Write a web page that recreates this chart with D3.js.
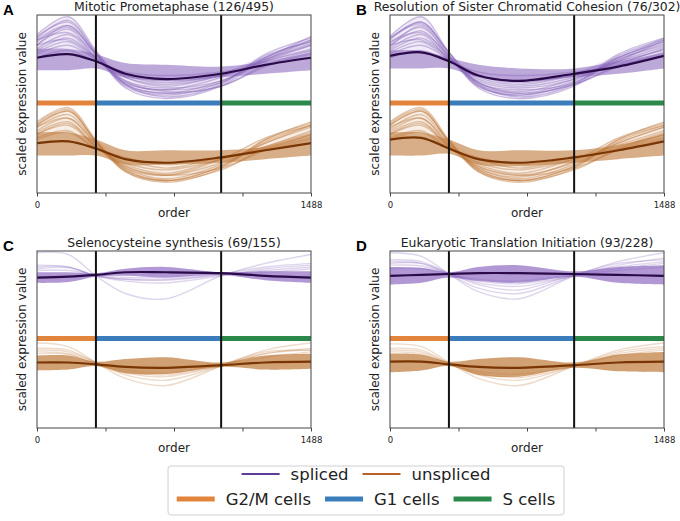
<!DOCTYPE html>
<html>
<head>
<meta charset="utf-8">
<script src="https://cdn.jsdelivr.net/npm/d3@7"></script>
<style>
  body { margin: 0; background: #fff; }
  text { font-family: "DejaVu Sans", sans-serif; }
</style>
</head>
<body>
<div class="container"></div>
<script>
const WIDTH = 680;
const HEIGHT = 521;

// order positions where each gene trend is sampled
const orderKnots = [0, 170, 320, 480, 700, 1000, 1240, 1488];
const orderMax = 1488;
const xTicks = [0, 372, 744, 1116, 1488];
const phaseBreaks = [0, 320, 1000, 1488];
const phaseNames = ['G2/M cells', 'G1 cells', 'S cells'];
const phaseLevel = 50.5;

const panelLetters = ['A', 'B', 'C', 'D'];
const panelTitles = [
    'Mitotic Prometaphase (126/495)',
    'Resolution of Sister Chromatid Cohesion (76/302)',
    'Selenocysteine synthesis (69/155)',
    'Eukaryotic Translation Initiation (93/228)'
];

// A - spliced
const aSplicedMean = [76, 78, 74, 67, 64, 67, 72, 76];
const aSplicedHi = [81, 81, 78, 73, 72, 71, 74, 79];
const aSplicedLo = [69, 69, 70, 65, 63, 65, 67, 69];
const aSplicedGenes = [
    [89, 99, 80, 61, 54, 61, 78, 87],
    [87, 97, 79, 59, 53, 60, 76, 86],
    [86, 94, 78, 60, 55, 62, 76, 85],
    [85, 93, 78, 61, 56, 63, 75, 84],
    [83, 92, 76, 62, 58, 65, 75, 86],
    [81, 89, 76, 63, 59, 63, 74, 83],
    [80, 87, 76, 65, 60, 66, 75, 83],
    [79, 85, 75, 65, 61, 66, 74, 81],
    [83, 86, 76, 66, 62, 67, 76, 88],
    [78, 83, 75, 66, 63, 66, 74, 80],
    [86, 90, 78, 63, 57, 60, 72, 80],
    [83, 94, 78, 61, 56, 60, 71, 79],
    [88, 96, 79, 62, 58, 62, 77, 85],
    [76, 80, 74, 68, 66, 68, 72, 78]
];
// A - unspliced
const aUnsplicedMean = [28, 29, 25, 19, 17, 20, 24, 28];
const aUnsplicedHi = [34, 34, 30, 24, 24, 24, 26, 33];
const aUnsplicedLo = [21, 21, 21, 16, 16, 17, 19, 21];
const aUnsplicedGenes = [
    [40, 48, 30, 12, 6, 14, 30, 40],
    [38, 46, 29, 13, 7, 15, 29, 38],
    [37, 44, 28, 14, 8, 16, 28, 38],
    [35, 42, 28, 15, 10, 17, 28, 37],
    [34, 40, 26, 16, 11, 19, 26, 35],
    [33, 38, 26, 17, 13, 19, 26, 34],
    [31, 35, 25, 19, 14, 20, 25, 33],
    [37, 42, 27, 14, 10, 19, 31, 39],
    [38, 46, 29, 13, 7, 13, 25, 33],
    [30, 34, 25, 20, 16, 20, 24, 30],
    [33, 39, 26, 15, 10, 14, 24, 31],
    [39, 47, 29, 12, 7, 15, 30, 38]
];

// B - spliced
const bSplicedMean = [77, 79, 74, 66, 63, 67, 71, 77];
const bSplicedHi = [80, 80, 76, 72, 70, 70, 74, 79];
const bSplicedLo = [70, 70, 70, 65, 63, 65, 67, 70];
const bSplicedGenes = [
    [88, 99, 79, 61, 54, 61, 78, 87],
    [86, 96, 78, 59, 53, 60, 77, 86],
    [87, 95, 79, 60, 55, 62, 75, 84],
    [84, 93, 77, 61, 56, 63, 76, 85],
    [83, 91, 76, 62, 57, 64, 74, 86],
    [81, 89, 75, 63, 59, 64, 75, 83],
    [80, 87, 76, 64, 60, 65, 74, 82],
    [79, 85, 75, 65, 61, 66, 73, 81],
    [83, 86, 76, 66, 62, 67, 76, 87],
    [78, 83, 75, 66, 63, 66, 74, 80],
    [85, 90, 77, 62, 56, 61, 72, 81],
    [82, 94, 77, 60, 55, 61, 71, 79],
    [87, 96, 79, 62, 58, 62, 76, 85],
    [76, 80, 74, 68, 66, 68, 72, 78]
];
// B - unspliced
const bUnsplicedMean = [30, 31, 25, 19, 17, 20, 24, 29];
const bUnsplicedHi = [34, 34, 30, 24, 24, 24, 27, 33];
const bUnsplicedLo = [21, 21, 22, 16, 15, 17, 19, 21];
const bUnsplicedGenes = [
    [40, 48, 30, 12, 6, 14, 30, 40],
    [38, 46, 29, 13, 7, 15, 29, 38],
    [36, 44, 28, 14, 8, 16, 28, 37],
    [35, 42, 27, 15, 10, 17, 28, 37],
    [34, 40, 26, 16, 11, 19, 27, 35],
    [33, 38, 26, 17, 13, 19, 26, 34],
    [31, 35, 25, 19, 14, 20, 25, 33],
    [37, 42, 27, 14, 9, 18, 31, 39],
    [38, 46, 29, 13, 7, 13, 25, 33],
    [30, 34, 25, 20, 16, 20, 24, 30],
    [33, 39, 26, 15, 10, 14, 24, 31],
    [39, 47, 29, 12, 7, 15, 30, 38]
];

// C - spliced
const cSplicedMean = [85, 85.5, 86.5, 88, 88, 87.5, 86, 85];
const cSplicedHi = [88, 88, 87.5, 90, 91, 88, 88.5, 88.5];
const cSplicedLo = [82, 82.5, 85.5, 86, 85, 86.5, 83.5, 82];
const cSplicedGenes = [
    [99, 98, 86, 76, 73, 86, 93, 98],
    [91, 91, 86, 83, 82, 86, 90, 92],
    [90, 90.5, 86, 84, 83.5, 86.5, 89, 91],
    [92, 91, 86, 84, 84, 87, 91, 93],
    [89, 89, 86.5, 85, 85, 87, 88, 90]
];
// C - unspliced
const cUnsplicedMean = [37, 37, 36, 34.5, 34, 35.5, 37, 37.5];
const cUnsplicedHi = [41, 41, 37.5, 39, 40, 37, 41, 42];
const cUnsplicedLo = [32.5, 33, 35, 31, 30.5, 34.5, 33, 33.5];
const cUnsplicedGenes = [
    [48, 46, 37, 28, 24, 35, 44, 48],
    [44, 43, 37, 30, 27, 35, 42, 45],
    [43, 42, 36.5, 32, 30, 35.5, 42, 44],
    [42, 41.5, 36, 31, 29, 35, 40, 43],
    [45, 44, 37, 33, 31, 36, 43, 44]
];

// D - spliced
const dSplicedMean = [86, 86.5, 87, 87.5, 87.5, 87, 86.5, 86];
const dSplicedHi = [91, 90.5, 88, 91, 92, 88.5, 91, 92];
const dSplicedLo = [81, 82, 85, 83, 82, 85.5, 82, 81];
const dSplicedGenes = [
    [99, 97, 87, 77, 73, 86, 94, 99],
    [95, 94, 87, 79, 76, 86, 92, 96],
    [93, 93, 87.5, 81, 78, 86.5, 91, 94],
    [92, 91.5, 87, 82, 80, 86, 90, 93],
    [94, 93, 87, 84, 83, 87, 93, 95],
    [90, 90, 87, 83, 81.5, 86, 89, 91]
];
// D - unspliced
const dUnsplicedMean = [37.5, 37.5, 36, 34.5, 34, 35.5, 37, 37.5];
const dUnsplicedHi = [42, 41.5, 37.5, 39, 40, 37, 41.5, 43];
const dUnsplicedLo = [31.5, 32.5, 35, 30, 29, 34, 32, 31.5];
const dUnsplicedGenes = [
    [47.5, 46, 37, 28, 24, 35, 44, 48],
    [45, 44, 36.5, 30, 27, 35, 43, 46],
    [44, 43, 36.5, 31, 28.5, 35, 42, 45],
    [43, 42, 36, 32, 30.5, 35, 41, 44]
];

const legendSeries = ['spliced', 'unspliced'];

// styling
const PHASE_COLORS = ['#e2843c', '#3b7dbb', '#2b8a4b'];
const STYLE = {
    spliced: {gene: '#8a68bd', core: '#a386cc', mean: '#2a0a48', legend: '#5e3c99'},
    unspliced: {gene: '#c27d40', core: '#c98f5a', mean: '#7a3504', legend: '#b8612a'}
};

const COL_X = [37, 390];
const ROW_Y = [15, 251];
const BOX_W = 274;
const ROW_H = [178, 177];

var panels = panelLetters.map(function (letter, i) {
    var src = [
        [aSplicedMean, aSplicedHi, aSplicedLo, aSplicedGenes, aUnsplicedMean, aUnsplicedHi, aUnsplicedLo, aUnsplicedGenes],
        [bSplicedMean, bSplicedHi, bSplicedLo, bSplicedGenes, bUnsplicedMean, bUnsplicedHi, bUnsplicedLo, bUnsplicedGenes],
        [cSplicedMean, cSplicedHi, cSplicedLo, cSplicedGenes, cUnsplicedMean, cUnsplicedHi, cUnsplicedLo, cUnsplicedGenes],
        [dSplicedMean, dSplicedHi, dSplicedLo, dSplicedGenes, dUnsplicedMean, dUnsplicedHi, dUnsplicedLo, dUnsplicedGenes]
    ][i];
    return {
        letter: letter,
        title: panelTitles[i],
        spliced: {mean: src[0], hi: src[1], lo: src[2], genes: src[3]},
        unspliced: {mean: src[4], hi: src[5], lo: src[6], genes: src[7]}
    };
});

var _svg;

var createSvg = function () {
    _svg = d3.select('.container').append('svg').attr('width', WIDTH).attr('height', HEIGHT);
};

var drawPanel = function (p, i) {
    var col = i % 2;
    var row = Math.floor(i / 2);
    var h = ROW_H[row];
    var x = d3.scaleLinear().domain([0, orderMax]).range([0, BOX_W]);
    var y = d3.scaleLinear().domain([0, 100]).range([h, 0]);
    var g = _svg.append('g').attr('transform', 'translate(' + COL_X[col] + ',' + ROW_Y[row] + ')');
    var smooth = d3.curveCatmullRom.alpha(0.5);

    var line = d3.line()
        .x(function (d, j) { return x(orderKnots[j]); })
        .y(function (d) { return y(d); })
        .curve(smooth);
    var area = d3.area()
        .x(function (d, j) { return x(orderKnots[j]); })
        .y0(function (d) { return y(d[0]); })
        .y1(function (d) { return y(d[1]); })
        .curve(smooth);

    var faint = row === 1;
    ['spliced', 'unspliced'].forEach(function (key) {
        var s = p[key];
        var st = STYLE[key];
        // haze spanned by all genes (envelope of the drawn genes)
        var env = orderKnots.map(function (k, j) {
            return [d3.min(s.genes, function (gv) { return gv[j]; }),
                    d3.max(s.genes, function (gv) { return gv[j]; })];
        });
        if (!faint) {
            g.append('path')
                .attr('d', area(env))
                .attr('fill', st.gene)
                .attr('fill-opacity', 0.13);
        }
        g.append('path')
            .attr('d', area(d3.zip(s.lo, s.hi)))
            .attr('fill', st.core)
            .attr('fill-opacity', faint ? 0.85 : 0.72);
        g.selectAll('.gene-' + key)
            .data(s.genes)
            .enter().append('path')
            .attr('d', line)
            .attr('fill', 'none')
            .attr('stroke', st.gene)
            .attr('stroke-opacity', faint ? 0.28 : 0.42)
            .attr('stroke-width', 1.4);
        g.append('path')
            .attr('d', line(s.mean))
            .attr('fill', 'none')
            .attr('stroke', st.mean)
            .attr('stroke-width', 2.2);
    });

    // phase bar
    g.selectAll('.phase')
        .data(phaseNames)
        .enter().append('line')
        .attr('x1', function (d, j) { return x(phaseBreaks[j]); })
        .attr('x2', function (d, j) { return x(phaseBreaks[j + 1]); })
        .attr('y1', y(phaseLevel))
        .attr('y2', y(phaseLevel))
        .attr('stroke', function (d, j) { return PHASE_COLORS[j]; })
        .attr('stroke-width', 5);

    // phase boundaries
    g.selectAll('.vline')
        .data(phaseBreaks.slice(1, -1))
        .enter().append('line')
        .attr('x1', function (d) { return x(d); })
        .attr('x2', function (d) { return x(d); })
        .attr('y1', 0)
        .attr('y2', h)
        .attr('stroke', '#111')
        .attr('stroke-width', 2);

    // frame
    g.append('rect')
        .attr('width', BOX_W).attr('height', h)
        .attr('fill', 'none').attr('stroke', '#444').attr('stroke-width', 1);

    var xAxis = d3.axisBottom(x)
        .tickValues(xTicks)
        .tickSize(3.5)
        .tickSizeOuter(0)
        .tickFormat(function (d) { return (d === 0 || d === orderMax) ? d : ''; });
    var ax = g.append('g').attr('transform', 'translate(0,' + h + ')').call(xAxis);
    ax.select('.domain').remove();
    ax.selectAll('line').attr('stroke', '#444');
    ax.selectAll('text').attr('font-size', 8.5).attr('fill', '#222').attr('dy', '0.95em')
        .style('font-family', '"DejaVu Sans", sans-serif');

    g.append('text')
        .attr('x', BOX_W / 2).attr('y', h + 24)
        .attr('text-anchor', 'middle').attr('font-size', 12).attr('fill', '#222')
        .text('order');

    g.append('text')
        .attr('transform', 'translate(-11,' + (h / 2) + ') rotate(-90)')
        .attr('text-anchor', 'middle').attr('font-size', 12).attr('fill', '#222')
        .text('scaled expression value');

    g.append('text')
        .attr('x', BOX_W / 2).attr('y', -4)
        .attr('text-anchor', 'middle').attr('font-size', 12.4).attr('fill', '#222')
        .text(p.title);

    g.append('text')
        .attr('x', -34).attr('y', 0)
        .attr('font-size', 15).attr('font-weight', 'bold')
        .style('font-family', '"Liberation Sans", Arial, sans-serif')
        .text(p.letter);
};

var drawLegend = function () {
    var cx = 366;
    var lg = _svg.append('g');
    lg.append('rect')
        .attr('x', 168).attr('y', 466).attr('width', 396).attr('height', 49)
        .attr('rx', 3).attr('fill', '#fff').attr('stroke', '#d0d0d0');

    var rows = [
        {y: 474, items: legendSeries.map(function (d) { return {label: d, color: STYLE[d].legend, w: 2.2}; })},
        {y: 499, items: phaseNames.map(function (d, j) { return {label: d, color: PHASE_COLORS[j], w: 5}; })}
    ];
    var HANDLE = 38, GAP = 11, SEP = 14;
    rows.forEach(function (r) {
        var rg = lg.append('g');
        var xpos = 0;
        r.items.forEach(function (it, j) {
            if (j > 0) xpos += SEP;
            rg.append('line')
                .attr('x1', xpos).attr('x2', xpos + HANDLE)
                .attr('y1', r.y).attr('y2', r.y)
                .attr('stroke', it.color).attr('stroke-width', it.w);
            xpos += HANDLE + GAP;
            var t = rg.append('text')
                .attr('x', xpos).attr('y', r.y).attr('dy', '0.35em')
                .attr('font-size', 16.5).attr('fill', '#222')
                .text(it.label);
            xpos += t.node().getComputedTextLength();
        });
        rg.attr('transform', 'translate(' + (cx - xpos / 2) + ',0)');
    });
};

window.onload = function () {
    createSvg();
    panels.forEach(drawPanel);
    drawLegend();
};
</script>
</body>
</html>
